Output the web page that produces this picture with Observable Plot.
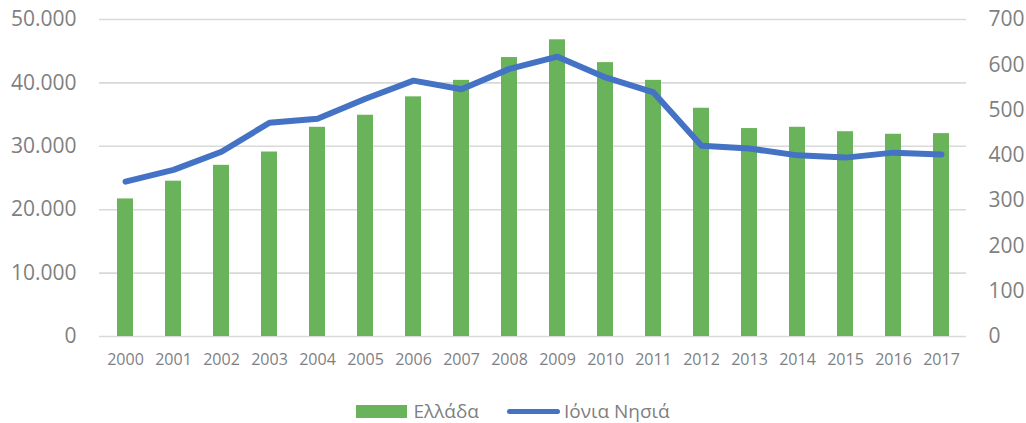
<!DOCTYPE html>
<html>
<head>
<meta charset="utf-8">
<script src="https://cdn.jsdelivr.net/npm/d3@7"></script>
<script src="https://cdn.jsdelivr.net/npm/@observablehq/plot@0.6"></script>
<style>
  html, body { margin: 0; padding: 0; background: #fff; overflow: hidden; }
  #chart { width: 1026px; height: 400px; }
  #chart svg { display: block; }
  #legend { width: 1026px; height: 23px; display: flex; justify-content: center; align-items: center;
    font-family: "Open Sans", sans-serif; font-size: 19px; line-height: 21px; color: #7f7f7f; }
  .item { display: flex; align-items: center; }
  .sw-bar { width: 51px; height: 13px; background: #69b45a; margin-right: 6px; }
  .sw-line { width: 53px; height: 5px; background: #4472c4; border-radius: 3px; margin-right: 4px; }
</style>
</head>
<body>
<div id="chart"></div>
<div id="legend"></div>
<script>
const years = ["2000","2001","2002","2003","2004","2005","2006","2007","2008","2009","2010","2011","2012","2013","2014","2015","2016","2017"];
const greece = [21700,24500,27000,29100,33000,34900,37800,40400,44000,46800,43200,40400,36000,32800,33000,32300,31900,32000];
const ionian = [342,368,408,472,481,525,565,546,591,618,572,539,421,415,400,395,406,402];
const leftTicks = [0,10000,20000,30000,40000,50000];
const rightTicks = [0,100,200,300,400,500,600,700];
const seriesNames = ["Ελλάδα","Ιόνια Νησιά"];

const leftMax = 50000, rightMax = 700;
const toLeft = v => v * leftMax / rightMax;
const fmt = d3.formatLocale({decimal: ",", thousands: ".", grouping: [3], currency: ["", "€"]}).format(",");

const barData = years.map((y, i) => ({year: y, value: greece[i]}));
const lineData = years.map((y, i) => ({year: y, value: ionian[i]}));

const gray = "#7f7f7f";
const chart = Plot.plot({
  width: 1026,
  height: 400,
  marginLeft: 99,
  marginRight: 60,
  marginTop: 19,
  marginBottom: 64,
  style: {fontFamily: "'Open Sans', sans-serif", color: gray, background: "#fff"},
  x: {domain: years, paddingInner: 0.67, paddingOuter: 0.335},
  y: {domain: [0, leftMax]},
  marks: [
    Plot.ruleY(leftTicks, {stroke: "#d9d9d9", strokeWidth: 1.6}),
    Plot.barY(barData, {x: "year", y: "value", fill: "#69b45a"}),
    Plot.line(lineData, {x: "year", y: d => toLeft(d.value), stroke: "#4472c4", strokeWidth: 6, strokeLinejoin: "round", strokeLinecap: "round"}),
    Plot.axisX({tickSize: 0, tickPadding: 17, fontSize: 16, label: null, fill: gray}),
    Plot.axisY(leftTicks, {anchor: "left", tickSize: 0, tickPadding: 23, fontSize: 21, tickFormat: fmt, label: null, fill: gray}),
    Plot.axisY(rightTicks.map(toLeft), {anchor: "right", tickSize: 0, tickPadding: 22, fontSize: 21,
      tickFormat: d => fmt(Math.round(d * rightMax / leftMax)), label: null, fill: gray})
  ]
});
document.getElementById("chart").appendChild(chart);

const legend = document.getElementById("legend");
legend.innerHTML =
  `<div class="item" style="margin-right:28px"><span class="sw-bar"></span><span>${seriesNames[0]}</span></div>` +
  `<div class="item"><span class="sw-line"></span><span>${seriesNames[1]}</span></div>`;
</script>
</body>
</html>
